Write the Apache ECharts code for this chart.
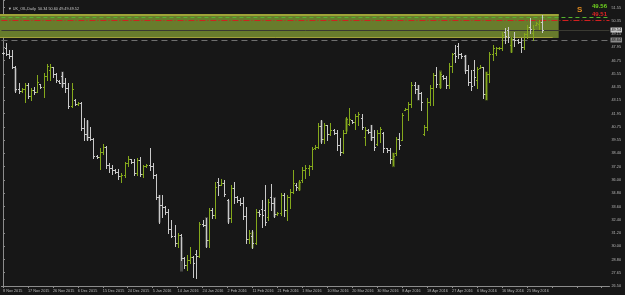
<!DOCTYPE html>
<html><head><meta charset="utf-8">
<script src="https://cdn.jsdelivr.net/npm/echarts@6/dist/echarts.min.js"></script>
<style>html,body{margin:0;padding:0;background:#171717;}#c{width:625px;height:295px;}</style>
</head><body><div id="c"></div><script>
// ---- data ----
const dates = [
'8 Nov 2015','9 Nov 2015','10 Nov 2015','11 Nov 2015','12 Nov 2015','13 Nov 2015','15 Nov 2015','16 Nov 2015',
'17 Nov 2015','18 Nov 2015','19 Nov 2015','20 Nov 2015','22 Nov 2015','23 Nov 2015','24 Nov 2015','25 Nov 2015',
'26 Nov 2015','27 Nov 2015','29 Nov 2015','30 Nov 2015','1 Dec 2015','2 Dec 2015','3 Dec 2015','4 Dec 2015',
'6 Dec 2015','7 Dec 2015','8 Dec 2015','9 Dec 2015','10 Dec 2015','11 Dec 2015','13 Dec 2015','14 Dec 2015',
'15 Dec 2015','16 Dec 2015','17 Dec 2015','18 Dec 2015','20 Dec 2015','21 Dec 2015','22 Dec 2015','23 Dec 2015',
'24 Dec 2015','27 Dec 2015','28 Dec 2015','29 Dec 2015','30 Dec 2015','31 Dec 2015','3 Jan 2016','4 Jan 2016',
'5 Jan 2016','6 Jan 2016','7 Jan 2016','8 Jan 2016','10 Jan 2016','11 Jan 2016','12 Jan 2016','13 Jan 2016',
'14 Jan 2016','15 Jan 2016','17 Jan 2016','18 Jan 2016','19 Jan 2016','20 Jan 2016','21 Jan 2016','22 Jan 2016',
'24 Jan 2016','25 Jan 2016','26 Jan 2016','27 Jan 2016','28 Jan 2016','29 Jan 2016','31 Jan 2016','1 Feb 2016',
'2 Feb 2016','3 Feb 2016','4 Feb 2016','5 Feb 2016','7 Feb 2016','8 Feb 2016','9 Feb 2016','10 Feb 2016',
'11 Feb 2016','12 Feb 2016','14 Feb 2016','15 Feb 2016','16 Feb 2016','17 Feb 2016','18 Feb 2016','19 Feb 2016',
'21 Feb 2016','22 Feb 2016','23 Feb 2016','24 Feb 2016','25 Feb 2016','26 Feb 2016','28 Feb 2016','29 Feb 2016',
'1 Mar 2016','2 Mar 2016','3 Mar 2016','4 Mar 2016','6 Mar 2016','7 Mar 2016','8 Mar 2016','9 Mar 2016',
'10 Mar 2016','11 Mar 2016','13 Mar 2016','14 Mar 2016','15 Mar 2016','16 Mar 2016','17 Mar 2016','18 Mar 2016',
'20 Mar 2016','21 Mar 2016','22 Mar 2016','23 Mar 2016','24 Mar 2016','27 Mar 2016','28 Mar 2016','29 Mar 2016',
'30 Mar 2016','31 Mar 2016','1 Apr 2016','3 Apr 2016','4 Apr 2016','5 Apr 2016','6 Apr 2016','7 Apr 2016',
'8 Apr 2016','10 Apr 2016','11 Apr 2016','12 Apr 2016','13 Apr 2016','14 Apr 2016','15 Apr 2016','17 Apr 2016',
'18 Apr 2016','19 Apr 2016','20 Apr 2016','21 Apr 2016','22 Apr 2016','24 Apr 2016','25 Apr 2016','26 Apr 2016',
'27 Apr 2016','28 Apr 2016','29 Apr 2016','1 May 2016','2 May 2016','3 May 2016','4 May 2016','5 May 2016',
'6 May 2016','8 May 2016','9 May 2016','10 May 2016','11 May 2016','12 May 2016','13 May 2016','15 May 2016',
'16 May 2016','17 May 2016','18 May 2016','19 May 2016','20 May 2016','22 May 2016','23 May 2016','24 May 2016',
'25 May 2016','26 May 2016','27 May 2016','29 May 2016','30 May 2016','31 May 2016'];

const opens = [
47.50,47.90,47.40,47.20,46.25,44.20,44.05,44.20, 44.60,43.60,44.10,44.00,44.65,44.40,45.40,45.90,
46.20,45.60,44.95,45.40,44.80,44.30,42.70,43.20, 42.90,43.00,40.70,40.20,39.90,39.70,38.20,38.10,
38.60,39.00,37.40,37.10,36.90,36.80,36.40,36.50, 37.60,37.90,37.70,36.70,37.80,36.60,37.30,37.40,
37.30,36.50,34.50,33.80,33.60,33.20,31.60,31.00, 30.40,31.10,29.00,28.40,28.80,29.10,29.40,29.20,
32.10,32.00,30.60,33.30,32.90,35.90,35.60,35.80, 34.20,32.60,35.30,34.50,34.20,34.00,32.80,30.70,
31.00,30.40,33.20,33.40,33.30,32.70,34.50,34.00, 33.00,33.10,34.70,33.30,34.50,35.00,35.60,35.30,
36.00,36.90,37.10,37.30,38.90,39.00,40.90,39.70, 41.00,40.20,40.50,40.30,39.20,38.60,40.30,41.10,
41.40,41.30,41.80,41.60,39.90,40.50,40.40,39.90, 39.30,40.30,40.30,38.90,38.70,37.90,38.50,39.70,
39.60,42.30,42.40,42.90,44.60,44.20,43.90,40.20, 40.80,43.10,44.30,45.50,44.70,45.40,45.20,44.60,
46.30,47.50,48.10,47.40,47.20,45.90,44.90,45.90, 45.00,46.10,46.20,43.80,45.60,47.40,47.50,47.90,
47.90,49.40,49.50,48.20,48.70,48.60,48.50,48.00, 49.20,49.80,49.30,50.00,50.10,50.30];
const highs = [
47.55,48.37,47.74,47.74,46.30,44.80,44.30,44.80, 44.80,44.30,44.40,45.50,44.65,45.70,46.50,46.50,
46.20,45.70,45.00,45.80,45.20,44.80,44.80,43.30, 43.10,43.10,41.60,41.40,40.80,39.80,38.30,38.90,
39.30,39.10,37.60,37.40,37.00,37.00,36.70,37.70, 38.20,37.90,37.90,38.00,38.10,37.40,37.50,38.90,
37.60,36.60,34.70,34.70,33.70,33.40,32.40,32.00, 31.30,31.20,29.10,29.30,30.00,29.20,29.70,32.30,
32.40,32.60,33.50,33.50,35.90,36.20,36.10,36.00, 34.30,35.60,35.90,34.60,34.40,34.50,33.60,31.50,
31.50,33.40,33.30,34.20,35.60,34.30,35.70,34.40, 33.20,34.90,34.90,34.70,35.20,36.90,35.80,36.00,
37.20,37.40,37.40,39.00,39.20,41.20,41.40,41.20, 41.00,41.20,40.60,40.50,39.80,40.50,41.70,42.50,
41.45,42.00,42.20,42.00,40.80,40.60,41.00,40.50, 40.50,40.80,40.40,38.90,38.90,38.50,39.90,40.30,
42.10,42.50,43.10,44.90,44.90,44.60,44.00,41.00, 43.40,44.60,45.70,46.20,45.80,45.50,45.40,46.60,
47.50,48.20,48.40,47.50,47.30,46.40,45.90,46.80, 46.20,46.40,46.20,45.80,47.60,48.20,48.00,48.00,
49.40,49.70,49.80,48.90,49.40,48.70,48.80,49.30, 50.00,50.60,50.00,50.30,50.40,50.90];
const lows = [
47.40,47.29,47.02,46.12,43.96,43.85,44.00,43.10, 43.40,43.20,43.80,43.96,44.30,43.50,45.00,45.00,
45.30,44.90,44.75,44.40,43.96,42.50,42.60,42.80, 42.80,40.50,39.60,39.60,39.60,38.00,38.00,37.00,
38.40,37.10,36.80,36.60,36.70,36.10,35.90,36.30, 37.30,37.60,36.50,36.50,36.40,36.30,37.20,36.90,
36.20,34.30,32.20,32.70,33.00,31.30,30.90,30.10, 30.00,28.80,28.10,27.90,28.60,27.30,27.25,29.10,
31.90,30.00,30.00,32.60,32.60,34.70,35.60,34.60, 32.20,32.30,34.00,34.10,33.80,32.50,30.40,30.40,
29.90,30.30,32.80,31.80,32.00,32.40,33.30,32.70, 32.90,32.90,32.80,32.40,33.50,34.90,35.10,35.10,
35.90,36.20,36.50,37.00,38.80,38.90,39.40,39.40, 39.60,40.10,40.20,38.70,38.30,38.50,40.30,41.00,
41.20,40.60,41.00,40.60,39.20,40.30,39.60,38.70, 39.20,39.50,38.60,38.60,37.60,37.40,38.30,38.80,
39.60,42.30,41.40,42.60,43.90,43.30,42.30,40.10, 40.50,42.80,42.80,44.40,44.30,45.10,44.30,44.30,
45.80,46.70,47.00,47.00,45.70,44.60,44.10,44.60, 44.30,46.10,43.40,43.30,44.90,46.80,47.30,47.80,
47.70,48.40,48.50,47.60,48.10,48.40,47.60,47.80, 48.80,49.30,48.60,50.00,49.60,49.40];
const closes = [
47.45,47.40,47.20,46.25,44.20,44.05,44.20,44.60, 43.60,44.10,44.00,44.90,44.40,45.40,46.30,46.20,
45.60,45.00,44.80,44.80,44.30,42.70,44.20,42.90, 43.00,40.70,40.20,39.90,39.70,38.20,38.10,38.60,
39.00,37.40,37.10,36.90,36.80,36.40,36.50,37.60, 37.90,37.70,36.70,37.80,36.60,37.30,37.40,37.30,
36.50,34.50,33.80,33.60,33.20,31.60,31.00,30.40, 31.10,29.00,28.40,28.80,29.10,28.60,29.20,32.10,
32.00,30.60,33.30,32.90,35.40,35.60,35.80,34.80, 32.60,35.30,34.50,34.20,34.00,32.80,30.70,31.30,
30.40,33.20,33.00,32.90,32.30,34.10,34.00,33.00, 33.10,34.70,33.30,34.50,35.00,35.80,35.40,35.90,
36.90,37.10,37.30,38.80,39.00,40.90,39.70,41.00, 40.20,40.50,40.30,39.20,38.60,40.30,41.50,41.50,
41.30,41.80,42.00,40.80,40.50,40.40,39.90,39.00, 40.30,40.60,38.90,38.70,37.90,38.20,39.70,39.20,
41.90,42.40,42.90,44.60,44.20,43.90,43.10,40.80, 43.10,44.30,45.50,44.70,45.60,45.20,44.60,46.30,
47.40,47.20,47.40,47.20,45.90,44.90,44.50,45.30, 46.00,46.20,43.80,45.60,47.40,47.90,47.90,47.95,
49.10,49.00,48.90,48.70,48.60,48.50,48.00,49.20, 49.80,49.60,49.60,50.20,50.30,49.50];

// dim wide overlay bars (index, top, bottom, bullish?)
const ovIdx  = [4,19,27,50,57,65,72,80,87,95,102,110,118,125,133,140,148,155,163];
const ovHigh = [46.1,45.8,41.4,34.7,30.9,32.7,34.2,31.4,34.5,35.9,41.4,41.6,41.0,38.5,44.6,45.9,47.3,45.8,48.9];
const ovLow  = [44.0,44.4,39.6,32.2,27.8,30.0,32.2,29.9,32.7,35.1,39.4,40.4,39.6,37.2,43.2,44.3,45.8,43.2,47.5];
const ovBull = [0,0,0,0,0,0,0,1,0,1,0,1,0,1,0,1,0,1,1];

const emptySlots = 21; // chart shift space on the right
const yTickLabels = ['26.50','27.65','28.80','30.00','31.20','32.40','33.60','34.80','36.00','37.20','38.40',
  '39.55','40.75','41.95','43.15','44.35','45.55','46.75','47.95','49.15','50.35','51.55'];
const yMin = 26.5, yMax = 52.24, yStep = 1.193;

const zone = {top: 50.98, bottom: 48.82, start: -3, end: 178.2};
const levelGreen = 50.70, levelRed = 50.40, bidPrice = 49.54, greyLevel = 48.64;
const headerText = '\u25BC UK_OIL,Daily  50.34 50.60 49.49 49.52';
const sigGreen = '49.56', sigRed = '49.51';

// ---- chart ----
const BULL = '#84a81c', BEAR = '#c9c9c9';
const FONT = 'Liberation Sans';
const cats = dates.concat(new Array(emptySlots).fill(''));
const ohlc = dates.map((d, i) => [i, opens[i], highs[i], lows[i], closes[i]]);
const ov = ovIdx.map((x, k) => [x, ovHigh[k], ovLow[k], ovBull[k]]);

function renderOHLC(params, api) {
  const i = api.value(0), o = api.value(1), h = api.value(2), l = api.value(3), c = api.value(4);
  const ph = api.coord([i, h]), pl = api.coord([i, l]), po = api.coord([i, o]), pc = api.coord([i, c]);
  const x = Math.round(ph[0]) + 0.5;
  const col = c >= o ? BULL : BEAR;
  const yo = Math.round(po[1]) + 0.5, yc = Math.round(pc[1]) + 0.5;
  return {type: 'group', children: [
    {type: 'line', shape: {x1: x, y1: Math.round(ph[1]), x2: x, y2: Math.round(pl[1]) + 1}, style: {stroke: col, lineWidth: 1}},
    {type: 'line', shape: {x1: x - 1.5, y1: yo, x2: x, y2: yo}, style: {stroke: col, lineWidth: 1}},
    {type: 'line', shape: {x1: x, y1: yc, x2: x + 1.5, y2: yc}, style: {stroke: col, lineWidth: 1}}
  ]};
}
function renderOv(params, api) {
  const i = api.value(0);
  const p1 = api.coord([i, api.value(1)]), p2 = api.coord([i, api.value(2)]);
  const x = Math.round(p1[0]) - 1;
  return {type: 'rect', shape: {x: x, y: p1[1], width: 3, height: p2[1] - p1[1]},
    style: {fill: api.value(3) ? '#46561a' : '#484848'}};
}
function renderZone(params, api) {
  const p1 = api.coord([api.value(0), api.value(1)]), p2 = api.coord([api.value(2), api.value(3)]);
  const w = p2[0] - p1[0], h = p2[1] - p1[1];
  return {type: 'group', children: [
    {type: 'rect', shape: {x: p1[0], y: p1[1], width: w, height: h}, style: {fill: '#687c2c'}},
    {type: 'rect', shape: {x: p1[0], y: p1[1], width: w, height: 2}, style: {fill: '#9ea338'}},
    {type: 'line', shape: {x1: p1[0], y1: p2[1] - 0.5, x2: p2[0] - 6, y2: p2[1] - 0.5}, style: {stroke: '#a2a13a', lineWidth: 1}}
  ]};
}

const chart = echarts.init(document.getElementById('c'), null, {renderer: 'canvas'});
chart.setOption({
  animation: false,
  backgroundColor: '#171717',
  title: {text: headerText, left: 3, top: 1.5, textStyle: {color: '#c8c8c8', fontSize: 3.8, fontWeight: 'normal', fontFamily: FONT}},
  grid: {left: 0.44, right: 15.5, top: 0, bottom: 9, containLabel: false},
  xAxis: [{
    type: 'category', data: cats, boundaryGap: true,
    axisLine: {lineStyle: {color: '#8c8c8c', width: 1}},
    axisTick: {show: true, interval: 7, alignWithLabel: true, length: 2, lineStyle: {color: '#8c8c8c'}},
    axisLabel: {interval: 7, align: 'left', margin: 2.5, color: '#b8b8b8', fontSize: 3.8, fontFamily: FONT},
    splitLine: {show: false}
  }, {
    type: 'value', min: -0.5, max: cats.length - 0.5, show: false
  }],
  yAxis: {
    type: 'value', position: 'right', min: yMin, max: yMax, interval: yStep,
    axisLine: {show: true, lineStyle: {color: '#8c8c8c', width: 1}},
    axisTick: {show: true, length: 2, lineStyle: {color: '#8c8c8c'}},
    axisLabel: {margin: 2, color: '#b8b8b8', fontSize: 3.8, fontFamily: FONT,
      formatter: v => yTickLabels[Math.round((v - yMin) / yStep)] || ''},
    splitLine: {show: false}
  },
  series: [
    {type: 'custom', name: 'zone', xAxisIndex: 1, renderItem: renderZone, silent: true, z: 1,
      data: [[zone.start, zone.top, zone.end, zone.bottom]]},
    {type: 'custom', name: 'overlay', xAxisIndex: 0, renderItem: renderOv, silent: true, z: 2,
      encode: {x: 0, y: [1, 2]}, data: ov},
    {type: 'custom', name: 'UK_OIL', xAxisIndex: 0, renderItem: renderOHLC, silent: true, z: 4,
      encode: {x: 0, y: [1, 2, 3, 4]}, data: ohlc,
      markLine: {silent: true, symbol: 'none', animation: false, z: 3,
        data: [
          {yAxis: levelGreen, lineStyle: {color: '#55b42e', type: [4, 3], width: 1}, label: {show: false}},
          {yAxis: levelRed, lineStyle: {color: '#d21f1f', type: [6, 2, 1, 2], width: 1}, label: {show: false}},
          {yAxis: bidPrice, lineStyle: {color: '#3a3a32', type: 'solid', width: 1},
            label: {show: true, position: 'end', distance: 1, formatter: String(bidPrice.toFixed(2)), color: '#111',
              backgroundColor: '#c8c8c8', padding: [0.5, 1], fontSize: 3.8, fontFamily: FONT}},
          {yAxis: greyLevel, lineStyle: {color: '#6f6f6f', type: [6, 4], width: 1},
            label: {show: true, position: 'end', distance: 1, formatter: String(greyLevel.toFixed(2)), color: '#111',
              backgroundColor: '#8a8a8a', padding: [0.5, 1], fontSize: 3.8, fontFamily: FONT}}
        ]}}
  ],
  graphic: [
    {type: 'text', left: 577, top: 6, style: {text: 'S', fill: '#e0891f', font: 'bold 8px ' + FONT}},
    {type: 'text', left: 592, top: 3, style: {text: sigGreen, fill: '#6fd21f', font: 'bold 6px ' + FONT}},
    {type: 'text', left: 592, top: 11, style: {text: sigRed, fill: '#e02424', font: 'bold 6px ' + FONT}}
  ]
});
</script></body></html>
